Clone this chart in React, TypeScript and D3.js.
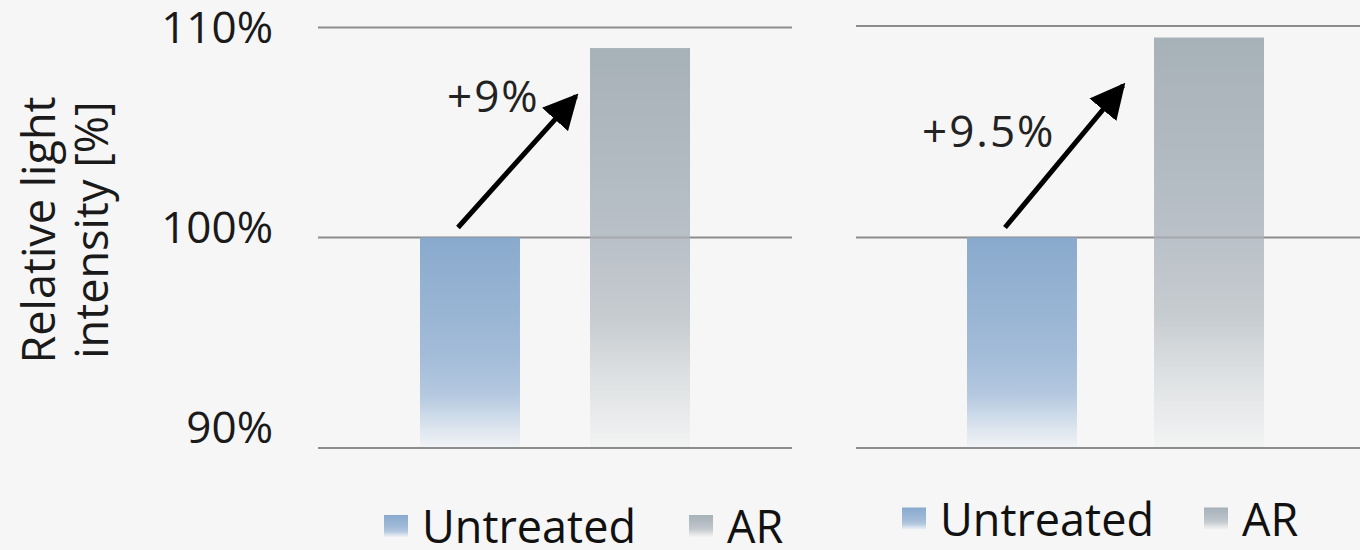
import React from 'react';
import * as d3 from 'd3';

const categories = ['Untreated', 'AR'];
const panelA = [100, 109];
const panelB = [100, 109.5];
const gainLabels = ['+9%', '+9.5%'];
const yTicks = [90, 100, 110];

const W = 1360;
const H = 550;
const FONT = '"Open Sans", "DejaVu Sans", sans-serif';

const y = d3.scaleLinear().domain([90, 110]).range([448, 27]);
const labelY = d3.scaleLinear().domain([90, 110]).range([443, 43]);

const panels = [
  { values: panelA, label: gainLabels[0], grid: [318, 792], bars: [420, 690], gridTop: 27.5,
    labelPos: [447, 112], arrowEndDx: -14, legendY: 526, legendX: [384, 689] },
  { values: panelB, label: gainLabels[1], grid: [856, 1362], bars: [967, 1264], gridTop: 26,
    labelPos: [922, 147], arrowEndDx: -31, legendY: 518.5, legendX: [902, 1204] },
];

const fills = ['url(#gUntreated)', 'url(#gAR)'];

export default function App() {
  return (
    <svg width={W} height={H} style={{ display: 'block', position: 'absolute', left: 0, top: 0 }}>
      <defs>
        <linearGradient id="gUntreated" x1="0" y1="0" x2="0" y2="1">
          <stop offset="0" stopColor="#89aacd" />
          <stop offset="0.55" stopColor="#a2bbd8" />
          <stop offset="0.75" stopColor="#b4c8df" />
          <stop offset="0.86" stopColor="#cfdcea" />
          <stop offset="1" stopColor="#f1f3f5" />
        </linearGradient>
        <linearGradient id="gAR" x1="0" y1="0" x2="0" y2="1">
          <stop offset="0" stopColor="#a7b1b8" />
          <stop offset="0.5" stopColor="#bac1c8" />
          <stop offset="0.68" stopColor="#c7ccd0" />
          <stop offset="0.82" stopColor="#dde0e2" />
          <stop offset="1" stopColor="#f2f3f3" />
        </linearGradient>
        <marker id="head" viewBox="0 0 10 10" refX="9" refY="5" markerWidth="7" markerHeight="7"
          markerUnits="strokeWidth" orient="auto">
          <path d="M0,0 L10,5 L0,10 Z" fill="#000" />
        </marker>
      </defs>
      <rect width={W} height={H} fill="#f6f6f6" />

      {/* y tick labels */}
      {yTicks.map((t) => (
        <text key={t} x={273} y={labelY(t)} textAnchor="end" fontFamily={FONT} fontSize={44}
          fill="#1a1a1a">{t}%</text>
      ))}

      {/* y axis title */}
      <g transform="translate(55,230) rotate(-90)">
        <text x={0} y={0} textAnchor="middle" fontFamily={FONT} fontSize={45} fill="#1a1a1a">Relative light</text>
        <text x={0} y={53} textAnchor="middle" fontFamily={FONT} fontSize={45} fill="#1a1a1a">intensity [%]</text>
      </g>

      {panels.map((p, pi) => {
        const x = d3.scaleBand<string>().domain(categories).range(p.bars as [number, number])
          .paddingInner(0.412).paddingOuter(0);
        const bw = x.bandwidth();
        const x0 = x(categories[0])!;
        const x1 = x(categories[1])!;
        const sx = x0 + 38;
        const sy = y(p.values[0]) - 10;
        const ex = x1 + p.arrowEndDx;
        const ey = y(p.values[1]) + 48;
        return (
          <g key={pi}>
            {yTicks.map((t) => (
              <line key={t} x1={p.grid[0]} x2={p.grid[1]} y1={t === 110 ? p.gridTop : y(t)}
                y2={t === 110 ? p.gridTop : y(t)} stroke="#8c8c8c" strokeWidth={2} />
            ))}
            {categories.map((c, i) => (
              <rect key={c} x={x(c)} y={y(p.values[i])} width={bw} height={y(90) - y(p.values[i]) - 1}
                fill={fills[i]} />
            ))}
            {/* grid showing through bars */}
            <line x1={x1} x2={x1 + bw} y1={y(100)} y2={y(100)} stroke="#8c8c8c" strokeWidth={2}
              strokeOpacity={0.45} />
            <line x1={sx} y1={sy} x2={ex} y2={ey} stroke="#000" strokeWidth={5} markerEnd="url(#head)" />
            <text x={p.labelPos[0]} y={p.labelPos[1]} fontFamily={FONT} fontSize={44} letterSpacing={2}
              fill="#222">{p.label}</text>

            {/* legend */}
            {categories.map((c, i) => (
              <g key={c}>
                <rect x={p.legendX[i]} y={p.legendY - 11} width={24} height={22} fill={fills[i]} />
                <text x={p.legendX[i] + 38} y={p.legendY + 17} fontFamily={FONT} fontSize={45}
                  fill="#111">{c}</text>
              </g>
            ))}
          </g>
        );
      })}
    </svg>
  );
}
